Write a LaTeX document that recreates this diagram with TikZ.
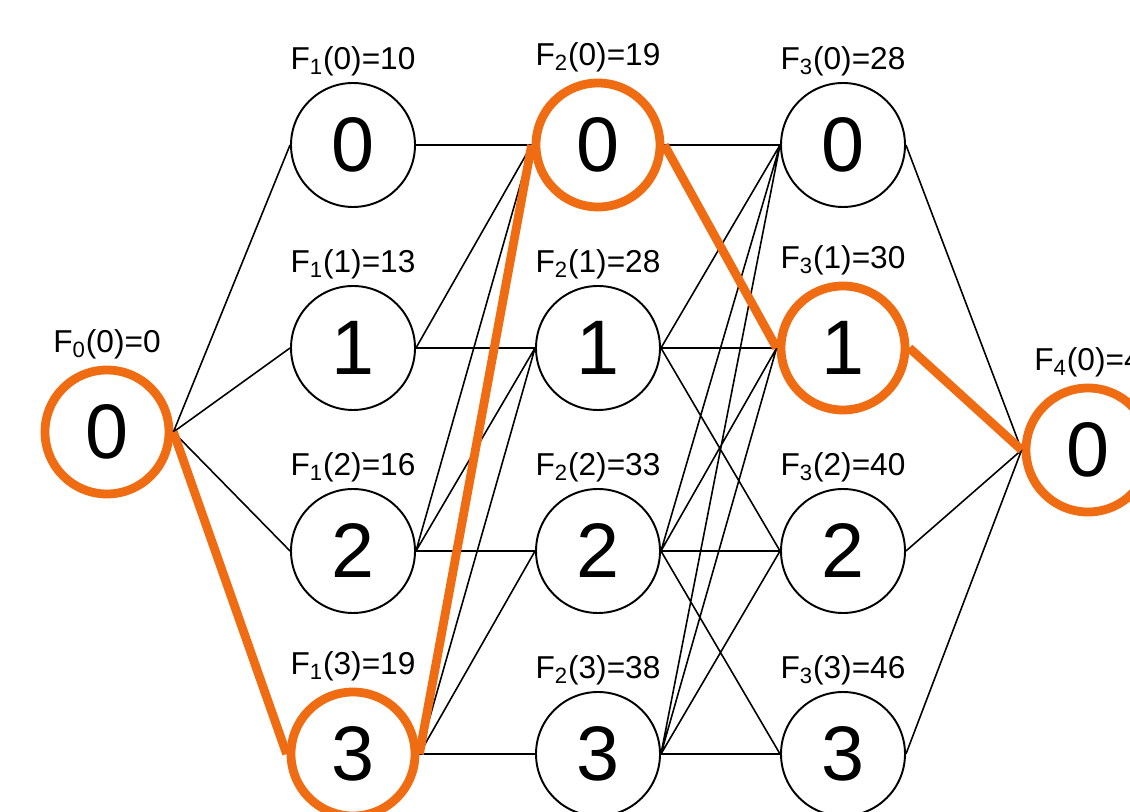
\documentclass[tikz,border=0pt]{standalone}
\usepackage{fontspec}
\setmainfont{Liberation Sans}
\definecolor{pathorange}{RGB}{240,108,18}
\begin{document}
\begin{tikzpicture}[
    state/.style={circle, draw, line width=1.1pt, minimum size=2.48cm, inner sep=0pt,
      font=\fontsize{44}{44}\selectfont, label distance=1pt},
    chosen/.style={state, draw=pathorange, line width=5pt},
    every label/.style={font=\fontsize{18}{18}\selectfont},
    edge/.style={line width=0.9pt},
    best/.style={draw=pathorange, line width=5pt}
  ]
    \path [use as bounding box, clip] (0,0) rectangle (22.6,16.22);
    \node [chosen, label={above:F\textsubscript{0}(0)=0}] (n00) at (2.14,7.58) {0};
    \node [state, label={above:F\textsubscript{1}(0)=10}] (n10) at (7.06,13.32) {0};
    \node [state, label={above:F\textsubscript{1}(1)=13}] (n11) at (7.06,9.26) {1};
    \node [state, label={above:F\textsubscript{1}(2)=16}] (n12) at (7.06,5.20) {2};
    \node [chosen, label={above:F\textsubscript{1}(3)=19}] (n13) at (7.06,1.14) {3};
    \node [chosen, label={above:F\textsubscript{2}(0)=19}] (n20) at (11.96,13.32) {0};
    \node [state, label={above:F\textsubscript{2}(1)=28}] (n21) at (11.96,9.26) {1};
    \node [state, label={above:F\textsubscript{2}(2)=33}] (n22) at (11.96,5.20) {2};
    \node [state, label={above:F\textsubscript{2}(3)=38}] (n23) at (11.96,1.14) {3};
    \node [state, label={above:F\textsubscript{3}(0)=28}] (n30) at (16.86,13.32) {0};
    \node [chosen, label={above:F\textsubscript{3}(1)=30}] (n31) at (16.86,9.26) {1};
    \node [state, label={above:F\textsubscript{3}(2)=40}] (n32) at (16.86,5.20) {2};
    \node [state, label={above:F\textsubscript{3}(3)=46}] (n33) at (16.86,1.14) {3};
    \node [chosen, label={above:F\textsubscript{4}(0)=4}] (n40) at (21.76,7.22) {0};
    \draw [edge] (n00.east) -- (n10.west) (n00.east) -- (n11.west)
          (n00.east) -- (n12.west) (n00.east) -- (n13.west);
    \draw [edge] (n10.east) -- (n20.west)
          (n11.east) -- (n20.west) (n11.east) -- (n21.west)
          (n12.east) -- (n20.west) (n12.east) -- (n21.west) (n12.east) -- (n22.west)
          (n13.east) -- (n20.west) (n13.east) -- (n21.west) (n13.east) -- (n22.west)
          (n13.east) -- (n23.west);
    \draw [edge] (n20.east) -- (n30.west) (n20.east) -- (n31.west)
          (n21.east) -- (n30.west) (n21.east) -- (n31.west) (n21.east) -- (n32.west)
          (n22.east) -- (n30.west) (n22.east) -- (n31.west) (n22.east) -- (n32.west)
          (n22.east) -- (n33.west)
          (n23.east) -- (n30.west) (n23.east) -- (n31.west) (n23.east) -- (n32.west)
          (n23.east) -- (n33.west);
    \draw [edge] (n30.east) -- (n40.west) (n31.east) -- (n40.west)
          (n32.east) -- (n40.west) (n33.east) -- (n40.west);
    \draw [best] (n00.east) -- (n13.west) (n13.east) -- (n20.west)
          (n20.east) -- (n31.west) (n31.east) -- (n40.west);
  \end{tikzpicture}
\end{document}
